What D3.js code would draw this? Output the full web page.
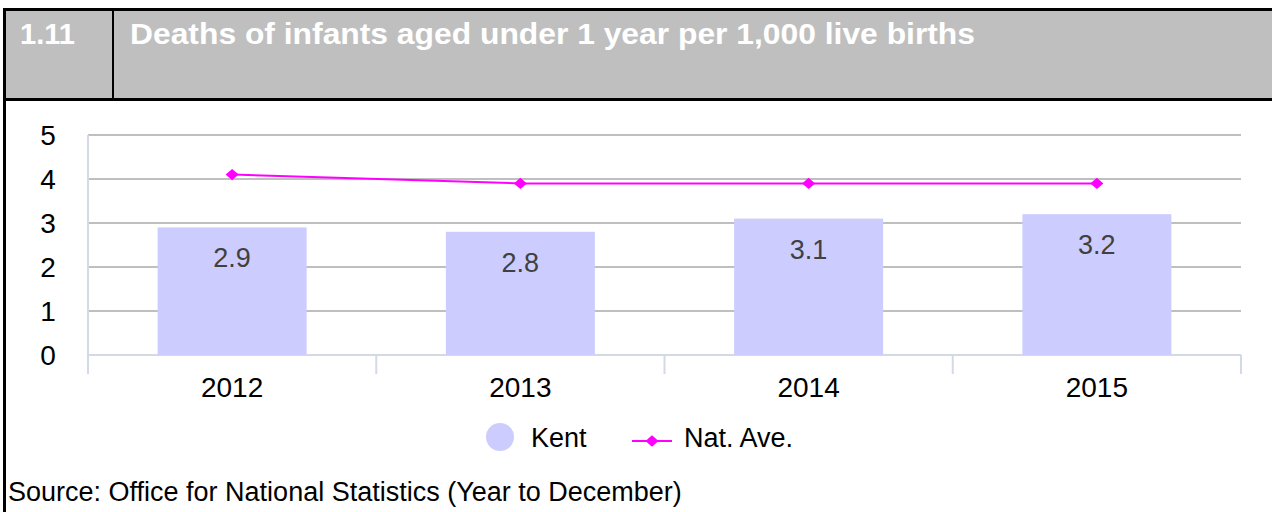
<!DOCTYPE html>
<html>
<head>
<meta charset="utf-8">
<script src="https://cdn.jsdelivr.net/npm/d3@7"></script>
<style>
  body { margin: 0; background: #fff; }
  svg text { font-family: "Liberation Sans", Arial, sans-serif; }
</style>
</head>
<body>
<div id="chart"></div>
<script>
// chart data
var years = ["2012", "2013", "2014", "2015"];
var kentValues = [2.9, 2.8, 3.1, 3.2];
var natAveValues = [4.1, 3.9, 3.9, 3.9];
var yTicks = [0, 1, 2, 3, 4, 5];

var width = 1272, height = 512;

var svg = d3.select("#chart")
	.append("svg")
	.attr("width", width)
	.attr("height", height);

// header box
svg.append("rect")
	.attr("x", 4.5).attr("y", 9.5)
	.attr("width", width + 10).attr("height", 90)
	.attr("fill", "#bfbfbf")
	.attr("stroke", "#000").attr("stroke-width", 3);

svg.append("line")
	.attr("x1", 113).attr("x2", 113)
	.attr("y1", 9).attr("y2", 100)
	.attr("stroke", "#000").attr("stroke-width", 2);

// left border going down
svg.append("line")
	.attr("x1", 4.5).attr("x2", 4.5)
	.attr("y1", 9).attr("y2", height)
	.attr("stroke", "#000").attr("stroke-width", 3);

svg.append("text")
	.attr("x", 20).attr("y", 44)
	.attr("fill", "#fff").attr("font-weight", "bold")
	.attr("font-size", 29)
	.text("1.11");

svg.append("text")
	.attr("x", 130).attr("y", 44)
	.attr("fill", "#fff").attr("font-weight", "bold")
	.attr("font-size", 29)
	.attr("textLength", 845)
	.attr("lengthAdjust", "spacingAndGlyphs")
	.text("Deaths of infants aged under 1 year per 1,000 live births");

// plot area
var plotLeft = 88, plotRight = 1241, plotTop = 135, plotBottom = 355;

var x = d3.scaleBand()
	.domain(years)
	.range([plotLeft, plotRight])
	.paddingInner(0)
	.paddingOuter(0);

var y = d3.scaleLinear()
	.domain([0, 5])
	.range([plotBottom, plotTop]);

// gridlines
svg.append("g")
	.selectAll("line")
	.data(yTicks.filter(d => d > 0))
	.enter()
	.append("line")
	.attr("x1", plotLeft).attr("x2", plotRight)
	.attr("y1", d => y(d)).attr("y2", d => y(d))
	.attr("stroke", "#bfbfbf").attr("stroke-width", 2);

// y axis labels
svg.append("g")
	.selectAll("text")
	.data(yTicks)
	.enter()
	.append("text")
	.attr("x", 48)
	.attr("y", d => y(d) + 10)
	.attr("text-anchor", "middle")
	.attr("font-size", 28)
	.attr("fill", "#000")
	.text(d => d);

// axis lines
var axisColor = "#d3dae6";
svg.append("line")
	.attr("x1", plotLeft).attr("x2", plotLeft)
	.attr("y1", plotTop).attr("y2", 374)
	.attr("stroke", axisColor).attr("stroke-width", 2);

svg.append("line")
	.attr("x1", plotLeft).attr("x2", plotRight)
	.attr("y1", plotBottom).attr("y2", plotBottom)
	.attr("stroke", axisColor).attr("stroke-width", 2);

svg.append("g")
	.selectAll("line")
	.data(years.slice(1).concat(["end"]))
	.enter()
	.append("line")
	.attr("x1", d => d == "end" ? plotRight : x(d))
	.attr("x2", d => d == "end" ? plotRight : x(d))
	.attr("y1", plotBottom).attr("y2", 374)
	.attr("stroke", axisColor).attr("stroke-width", 2);

// bars
var barW = 149;
svg.append("g")
	.selectAll("rect")
	.data(kentValues)
	.enter()
	.append("rect")
	.attr("x", (d, i) => x(years[i]) + x.bandwidth() / 2 - barW / 2)
	.attr("y", d => y(d))
	.attr("width", barW)
	.attr("height", d => plotBottom - y(d))
	.attr("fill", "#ccccff");

// bar labels
svg.append("g")
	.selectAll("text")
	.data(kentValues)
	.enter()
	.append("text")
	.attr("x", (d, i) => x(years[i]) + x.bandwidth() / 2)
	.attr("y", d => y(d) + 40)
	.attr("text-anchor", "middle")
	.attr("font-size", 27)
	.attr("fill", "#404040")
	.text(d => d.toFixed(1));

// nat. ave. line
var line = d3.line()
	.x((d, i) => x(years[i]) + x.bandwidth() / 2)
	.y(d => y(d));

svg.append("path")
	.datum(natAveValues)
	.attr("d", line)
	.attr("fill", "none")
	.attr("stroke", "#ff00ff")
	.attr("stroke-width", 2);

// diamond marker, a bit wider than tall
var marker = d3.symbol().type(d3.symbolSquare).size(64);
svg.append("g")
	.selectAll("path")
	.data(natAveValues)
	.enter()
	.append("path")
	.attr("d", marker)
	.attr("transform", (d, i) => "translate(" + (x(years[i]) + x.bandwidth() / 2) + "," + y(d) + ") scale(1.15,1) rotate(45)")
	.attr("fill", "#ff00ff");

// category labels
svg.append("g")
	.selectAll("text")
	.data(years)
	.enter()
	.append("text")
	.attr("x", d => x(d) + x.bandwidth() / 2)
	.attr("y", 397)
	.attr("text-anchor", "middle")
	.attr("font-size", 28)
	.attr("fill", "#000")
	.text(d => d);

// legend
svg.append("circle")
	.attr("cx", 500).attr("cy", 437).attr("r", 14)
	.attr("fill", "#ccccff");
svg.append("text")
	.attr("x", 531).attr("y", 447)
	.attr("font-size", 27)
	.text("Kent");

svg.append("line")
	.attr("x1", 632).attr("x2", 672)
	.attr("y1", 441).attr("y2", 441)
	.attr("stroke", "#ff00ff").attr("stroke-width", 2);
svg.append("path")
	.attr("d", marker)
	.attr("transform", "translate(652,441) scale(1.15,1) rotate(45)")
	.attr("fill", "#ff00ff");
svg.append("text")
	.attr("x", 684).attr("y", 447)
	.attr("font-size", 27)
	.text("Nat. Ave.");

// source
svg.append("text")
	.attr("x", 8).attr("y", 501)
	.attr("font-size", 27)
	.text("Source: Office for National Statistics (Year to December)");
</script>
</body>
</html>
